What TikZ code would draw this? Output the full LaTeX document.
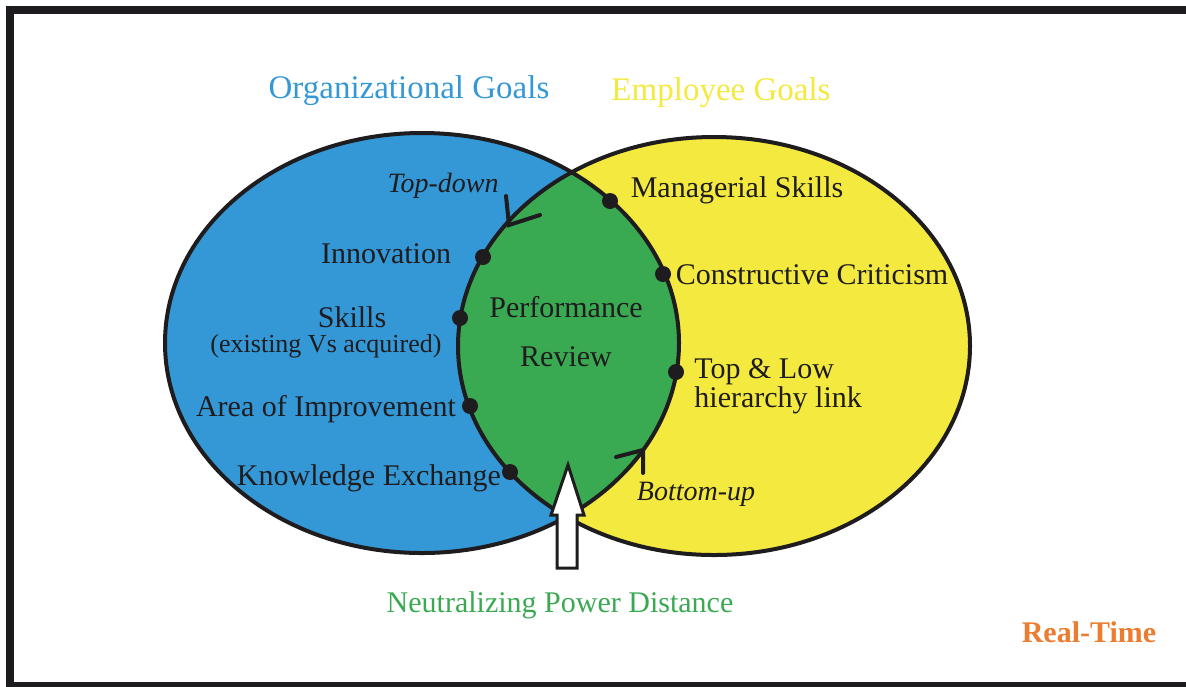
\documentclass[tikz,border=0pt]{standalone}
\usepackage{fontspec}
\setmainfont{Liberation Serif}
\usepackage{tikz}
\usetikzlibrary{calc}
\definecolor{orgBlue}{RGB}{52,152,214}
\definecolor{empYellow}{RGB}{244,233,62}
\definecolor{revGreen}{RGB}{58,170,82}
\definecolor{rtOrange}{RGB}{236,124,48}
\definecolor{inkDark}{RGB}{30,28,30}

\tikzset{
  goal/.style={font=\fontsize{16.5}{19}\selectfont},
  item/.style={font=\fontsize{15}{17}\selectfont, text=inkDark, inner sep=1pt},
  flow/.style={font=\fontsize{14}{16}\selectfont\itshape, text=inkDark},
  pin/.style={circle, fill=inkDark, inner sep=0pt, minimum size=8pt},
  rim/.style={line width=2pt, draw=inkDark},
  tick/.style={line width=2pt, draw=inkDark},
}

\begin{document}
\begin{tikzpicture}[x=0.5pt, y=-0.5pt, style={line cap=round}]
  \useasboundingbox (0,0) rectangle (1186,686);
  \draw[line width=4pt, inkDark, line cap=butt] (9.5,9.5) rectangle (1194,686);

  % two goal sets, green where they overlap
  \fill[orgBlue] (422,343) ellipse (257 and 210);
  \fill[empYellow] (714,346) ellipse (256 and 209);
  \begin{scope}
    \clip (422,343) ellipse (257 and 210);
    \fill[revGreen] (714,346) ellipse (256 and 209);
  \end{scope}
  \draw[rim] (422,343) ellipse (257 and 210);
  \draw[rim] (714,346) ellipse (256 and 209);

  \node[goal, text=orgBlue] (orgGoals) at (409,91) {Organizational Goals};
  \node[goal, text=empYellow] (empGoals) at (721,93) {Employee Goals};

  % left side of the overlap
  \node[pin] (pInno) at (483,257) {};
  \node[pin] (pSkill) at (460,318) {};
  \node[pin] (pArea) at (470,406) {};
  \node[pin] (pKnow) at (510,472) {};
  \node[item] (tInno) at (386,254) {Innovation};
  \node[item] (tSkill) at (352,317) {Skills};
  \node[item, font=\fontsize{13}{15}\selectfont] (tSkillSub) at (326,346) {(existing Vs acquired)};
  \node[item] (tArea) at (326,409) {Area of Improvement};
  \node[item] (tKnow) at (369,478) {Knowledge Exchange};

  % right side of the overlap
  \node[pin] (pMgr) at (610,201) {};
  \node[pin] (pCrit) at (663,274) {};
  \node[pin] (pLink) at (676,372) {};
  \node[item] (tMgr) at (737,190) {Managerial Skills};
  \node[item] (tCrit) at (812,275) {Constructive Criticism};
  \node[item, anchor=west, align=left, font=\fontsize{15}{14.5}\selectfont] (tLink) at (692,386) {Top \& Low\\hierarchy link};

  \node[item] (tPerf) at (566,307) {Performance};
  \node[item] (tRev) at (566,357) {Review};

  % flow marks on the rim
  \node[flow] (tDown) at (443,186) {Top-down};
  \coordinate (tdTop) at (506,196);
  \coordinate (tdTip) at (509,225);
  \coordinate (tdEnd) at (540,215);
  \draw[tick] (tdTop) -- (tdTip) -- (tdEnd);

  \node[flow] (tUp) at (696,494) {Bottom-up};
  \coordinate (buFoot) at (643,473);
  \coordinate (buTip) at (643,450);
  \coordinate (buEnd) at (616,457);
  \draw[tick] (buFoot) -- (buTip) -- (buEnd);

  % hollow arrow into the review
  \node[item, text=revGreen] (tNeutral) at (560,605) {Neutralizing Power Distance};
  \coordinate (npBase) at (567,568);
  \draw[line width=1.5pt, inkDark, fill=white, line join=miter]
    (npBase) ++(-10,0) -- ++(0,-53) -- ++(-6,0) -- ++(17,-50) -- ++(16,50)
    -- ++(-7,0) -- ++(0,53) -- cycle;

  \node[item, text=rtOrange, font=\fontsize{15}{17}\selectfont\bfseries] (tReal) at (1089,632) {Real-Time};
\end{tikzpicture}
\end{document}
